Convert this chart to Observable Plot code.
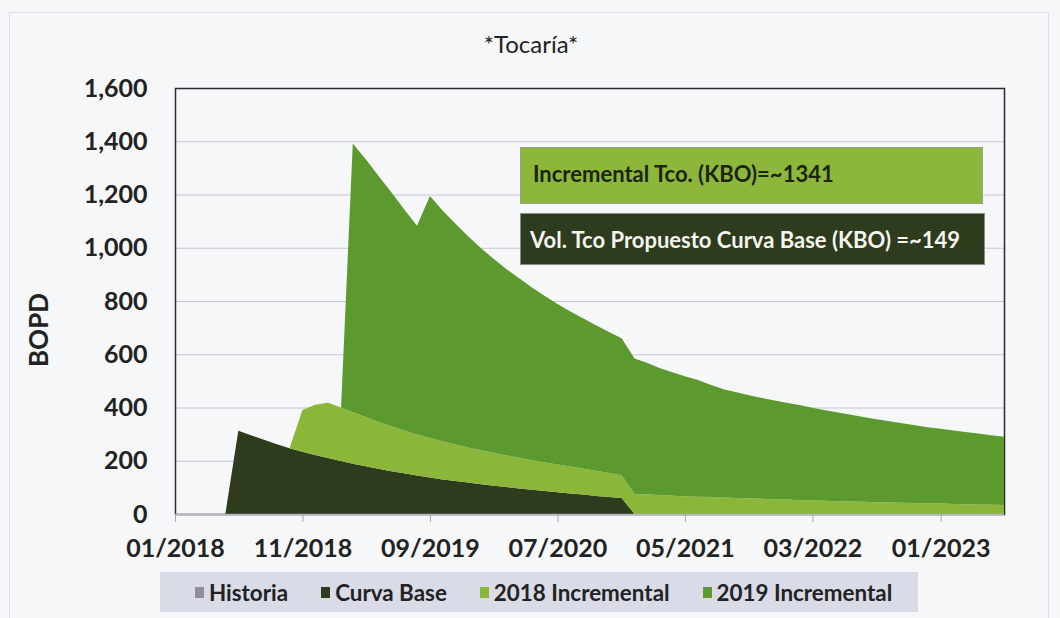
<!DOCTYPE html>
<html>
<head>
<meta charset="utf-8">
<script src="https://cdn.jsdelivr.net/npm/d3@7"></script>
<script src="https://cdn.jsdelivr.net/npm/@observablehq/plot@0.6"></script>
<style>
  html, body { margin: 0; padding: 0; background: #f6f7f9; }
  #wrap { position: relative; width: 1060px; height: 618px; overflow: hidden; font-family: Lato, "Open Sans", sans-serif; }
  #outer { position: absolute; left: 9px; top: 12px; width: 1040px; height: 640px; border: 1px solid #dcdde6; box-sizing: border-box; }
  #chart { position: absolute; left: 0; top: 0; }
  #title { position: absolute; left: 0; top: 30px; width: 1062px; text-align: center; font-size: 24px; color: #222; line-height: 28px; }
  #ylabel { position: absolute; left: 38px; top: 330px; transform: translate(-50%, -50%) rotate(-90deg); font-size: 26px; font-weight: bold; color: #222; white-space: nowrap; line-height: 26px; }
  .note { position: absolute; box-sizing: border-box; font-weight: bold; font-size: 22px; white-space: nowrap; display: flex; align-items: center; }
  #note1 { left: 520px; top: 147px; width: 463px; height: 57px; background: #8cb73b; border: 1px solid #9aa08e; color: #1c2412; padding-left: 12px; padding-bottom: 4px; }
  #note2 { left: 520px; top: 213px; width: 465px; height: 52px; background: #2e3b1d; border: 1px solid #8a8f86; color: #f4f4f0; padding-left: 9px; }
  #legend { position: absolute; left: 160px; top: 572px; width: 758px; height: 40px; background: #d9dbe7; display: flex; align-items: center; padding-left: 35px; box-sizing: border-box; gap: 33px; font-weight: bold; font-size: 22.4px; color: #222; }
  .item { display: flex; align-items: center; white-space: nowrap; }
  .sw { display: inline-block; width: 9px; height: 11px; margin-right: 5px; }
  svg g[aria-label="x-axis tick"] path { stroke: #a8a8b8; }
</style>
</head>
<body>
<div id="wrap">
  <div id="outer"></div>
  <div id="chart"></div>
  <div id="title"></div>
  <div id="ylabel"></div>
  <div id="note1" class="note"></div>
  <div id="note2" class="note"></div>
  <div id="legend"></div>
</div>
<script>
// ---- data ----
const titleText = "*Tocaría*";
const yLabelText = "BOPD";
const note1Text = "Incremental Tco. (KBO)=~1341";
const note2Text = "Vol. Tco Propuesto Curva Base (KBO) =~149";

const startMonth = "01/2018";
const endMonth = "06/2023";
const xTickLabels = ["01/2018", "11/2018", "09/2019", "07/2020", "05/2021", "03/2022", "01/2023"];
const yTicks = [0, 200, 400, 600, 800, 1000, 1200, 1400, 1600];

const legendNames = ["Historia", "Curva Base", "2018 Incremental", "2019 Incremental"];
const legendColors = ["#8e8e98", "#2e3b1d", "#8ab63a", "#5c9a30"];
const seriesNames = ["Curva Base", "2018 Incremental", "2019 Incremental"];
const seriesColors = ["#2e3b1d", "#8ab63a", "#5c9a30"];

// monthly values, 01/2018 .. 06/2023
const curvaBase = [
  0, 0, 0, 0, 0,
  313, 296, 279, 262, 247, 234, 222, 210, 199, 189, 179, 170, 161, 153, 145,
  137, 130, 124, 118, 112, 106, 101, 96, 91, 86, 82, 77, 73, 68, 64, 60,
  0, 0, 0, 0, 0, 0, 0, 0, 0, 0, 0, 0, 0, 0, 0,
  0, 0, 0, 0, 0, 0, 0, 0, 0, 0, 0, 0, 0, 0, 0
];
const inc2018 = [
  0, 0, 0, 0, 0, 0, 0, 0, 0, 0,
  157, 188, 208, 201, 193, 185, 176, 169, 161, 154,
  148, 143, 137, 132, 127, 123, 119, 115, 111, 107,
  104, 101, 97, 94, 90, 86,
  75, 73, 71, 69, 67, 65, 64, 62, 60, 59,
  57, 55, 54, 52, 51, 50, 48, 47, 46, 44,
  43, 42, 41, 40, 39, 38, 37, 36, 35, 34
];
const inc2019 = [
  0, 0, 0, 0, 0, 0, 0, 0, 0, 0, 0, 0, 0, 0,
  1010, 968, 924, 878, 832, 784,
  909, 867, 829, 793, 759, 728,
  700, 674, 649, 626, 603,
  583, 564, 547, 530, 514,
  509, 494, 477, 463, 450,
  438, 421, 407, 397, 387,
  379, 371, 363, 356, 348,
  340, 333, 326, 318, 312,
  305, 299, 292, 286, 281,
  276, 271, 266, 261, 256
];

// ---- build ----
const parseM = d3.utcParse("%m/%Y");
const fmtM = d3.utcFormat("%m/%Y");
const t0 = parseM(startMonth);
const months = curvaBase.map((_, i) => d3.utcMonth.offset(t0, i));
const xTicks = xTickLabels.map(parseM);
const seriesValues = [curvaBase, inc2018, inc2019];
const rows = [];
seriesNames.forEach((s, k) => seriesValues[k].forEach((v, i) => rows.push({date: months[i], series: s, value: v})));

const chart = Plot.plot({
  width: 1060,
  height: 570,
  marginLeft: 175,
  marginRight: 56,
  marginTop: 88,
  marginBottom: 56,
  style: {fontFamily: "Lato, 'Open Sans', sans-serif", fontWeight: "bold", fontSize: "25px", background: "transparent", color: "#222", overflow: "visible"},
  x: {type: "utc", domain: [t0, parseM(endMonth)], ticks: xTicks, tickFormat: fmtM, tickSize: 8, tickPadding: 17, label: null},
  y: {domain: [0, 1600], ticks: yTicks, tickFormat: d3.format(","), tickSize: 0, tickPadding: 28, label: null},
  color: {domain: seriesNames, range: seriesColors},
  marks: [
    Plot.gridY(yTicks, {stroke: "#c6c6d6", strokeOpacity: 1, strokeWidth: 1}),
    Plot.frame({stroke: "#2b2b30", strokeWidth: 1.5}),
    Plot.areaY(rows, {x: "date", y: "value", fill: "series", z: "series", order: seriesNames, curve: "linear"}),
    Plot.ruleY([0], {stroke: "#b4b4c4", strokeWidth: 1.5})
  ]
});
document.getElementById("chart").appendChild(chart);

document.getElementById("title").textContent = titleText;
document.getElementById("ylabel").textContent = yLabelText;
document.getElementById("note1").textContent = note1Text;
document.getElementById("note2").textContent = note2Text;
const legend = document.getElementById("legend");
legendNames.forEach((n, i) => {
  const it = document.createElement("div");
  it.className = "item";
  const sw = document.createElement("span");
  sw.className = "sw";
  sw.style.background = legendColors[i];
  it.appendChild(sw);
  it.appendChild(document.createTextNode(n));
  legend.appendChild(it);
});
</script>
</body>
</html>
